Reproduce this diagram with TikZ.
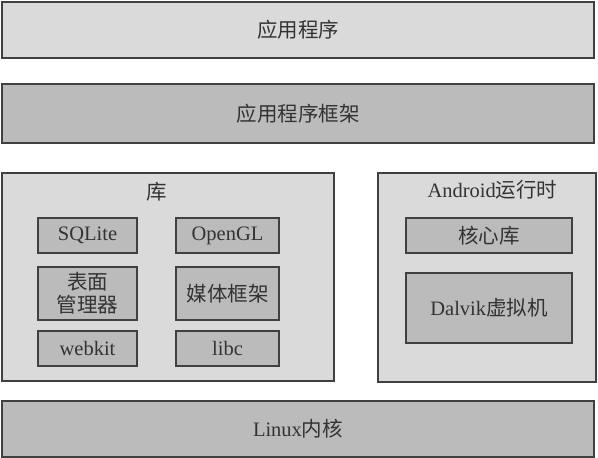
\documentclass[tikz,border=0pt]{standalone}
\usepackage{fontspec}
\setmainfont{Liberation Serif}
\newfontfamily\cjk{Noto Sans CJK SC}
\definecolor{edge}{HTML}{404040}
\definecolor{lightfill}{HTML}{DADADA}
\definecolor{midfill}{HTML}{BBBBBB}
\definecolor{txt}{HTML}{333333}
\begin{document}
\begin{tikzpicture}[x=1pt,y=-1pt,
  layer/.style={draw=edge,line width=2.6pt,minimum width=#1,inner sep=0pt,text=txt,font=\fontsize{20.5}{23}\selectfont},
  outerbox/.style={draw=edge,line width=2.6pt,fill=lightfill,inner sep=0pt},
  innerbox/.style={draw=edge,line width=2.8pt,fill=midfill,inner sep=0pt,text=txt,font=\fontsize{20.5}{22}\selectfont,align=center},
  lbl/.style={text=txt,font=\fontsize{20.5}{23}\selectfont,inner sep=0pt}]
\useasboundingbox (0,0) rectangle (598,458);
\fill[white] (0,0) rectangle (598,458);
\node[layer=592pt,minimum height=56pt,fill=lightfill] (app) at (298,30) {\cjk 应用程序};
\node[layer=592pt,minimum height=59pt,fill=midfill] (fw) at (298,113.5) {\cjk 应用程序框架};
\node[outerbox,minimum width=332pt,minimum height=208pt] (lib) at (168,277) {};
\node[lbl] (libl) at (157,192) {\cjk 库};
\node[innerbox,minimum width=99pt,minimum height=53pt] (surf) at (87.5,293.5) {\cjk 表面\\[1pt] \cjk 管理器};
\node[innerbox,minimum width=99pt,minimum height=35pt] (sqlite) at (87.5,235.5) {SQLite};
\node[innerbox,minimum width=103pt,minimum height=35pt] (opengl) at (227.5,235.5) {OpenGL};
\node[innerbox,minimum width=103pt,minimum height=53pt] (media) at (227.5,293.5) {\cjk 媒体框架};
\node[innerbox,minimum width=99pt,minimum height=35pt] (webkit) at (87.5,348.5) {webkit};
\node[innerbox,minimum width=103pt,minimum height=35pt] (libc) at (227.5,348.5) {libc};
\node[outerbox,minimum width=218pt,minimum height=209pt] (rt) at (487,277.5) {};
\node[lbl] (rtl) at (492.5,190) {Android{\cjk 运行时}};
\node[innerbox,minimum width=166pt,minimum height=35pt] (core) at (489,235.5) {\cjk 核心库};
\node[innerbox,minimum width=166pt,minimum height=70pt] (dalvik) at (489,308) {Dalvik{\cjk 虚拟机}};
\node[layer=592pt,minimum height=56pt,fill=midfill] (linux) at (298,429) {Linux{\cjk 内核}};
\end{tikzpicture}
\end{document}
